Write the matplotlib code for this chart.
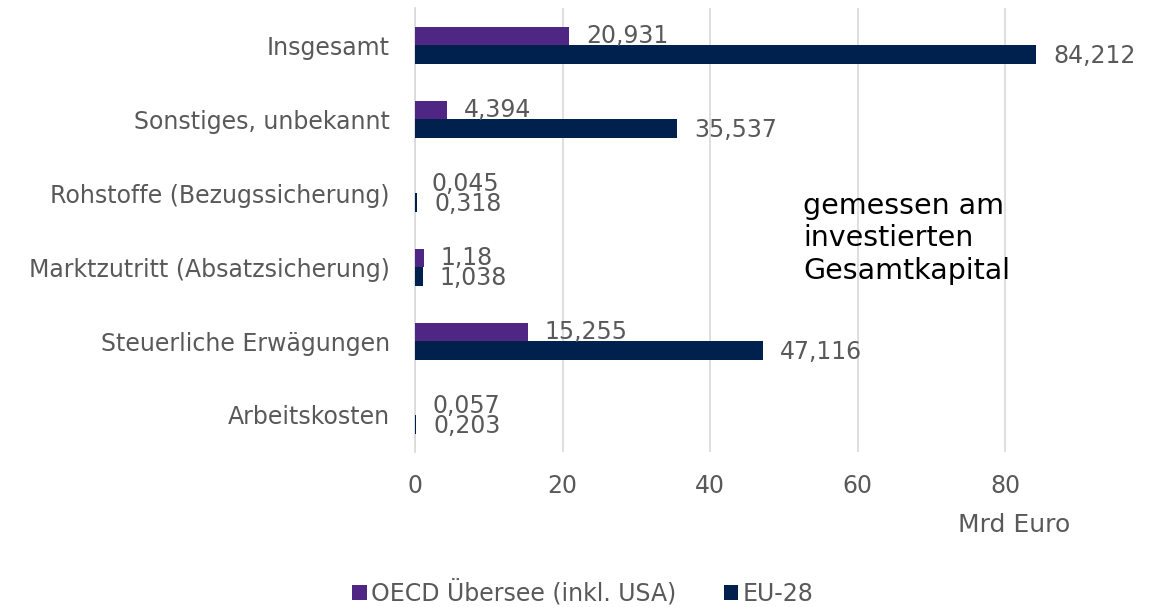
import matplotlib
matplotlib.use("Agg")
import matplotlib.pyplot as plt
import numpy as np

categories = ["Arbeitskosten", "Steuerliche Erwägungen", "Marktzutritt (Absatzsicherung)",
              "Rohstoffe (Bezugssicherung)", "Sonstiges, unbekannt", "Insgesamt"]
oecd = [0.057, 15.255, 1.18, 0.045, 4.394, 20.931]
eu = [0.203, 47.116, 1.038, 0.318, 35.537, 84.212]
oecd_labels = ["0,057", "15,255", "1,18", "0,045", "4,394", "20,931"]
eu_labels = ["0,203", "47,116", "1,038", "0,318", "35,537", "84,212"]
series_names = ["OECD Übersee (inkl. USA)", "EU-28"]
xticks = [0, 20, 40, 60, 80]

purple = "#4F2683"
navy = "#00204E"
gray = "#595959"
fs = 17

plt.rcParams['font.family'] = ['DejaVu Sans']
fig = plt.figure(figsize=(11.64, 6.07), dpi=100)
ax = fig.add_axes([415/1164, 1-452/607, (1153-415)/1164, 444/607])

y = np.arange(len(categories))
h = 0.25
b1 = ax.barh(y + h/2, oecd, height=h, color=purple, label=series_names[0], zorder=3)
b2 = ax.barh(y - h/2, eu, height=h, color=navy, label=series_names[1], zorder=3)

for yi, v, lab in zip(y + h/2, oecd, oecd_labels):
    ax.annotate(lab, (v, yi), xytext=(12, 0), textcoords="offset points",
                va="center", ha="left", fontsize=fs, color=gray, zorder=4)
for yi, v, lab in zip(y - h/2, eu, eu_labels):
    ax.annotate(lab, (v, yi), xytext=(12, -1), textcoords="offset points",
                va="center", ha="left", fontsize=fs, color=gray, zorder=4)

ax.set_xlim(0, 100)
ax.set_ylim(-0.5, len(categories) - 0.5)
ax.set_xticks(xticks)
ax.set_xticklabels([str(t) for t in xticks], fontsize=fs, color=gray)
ax.set_yticks(y)
ax.set_yticklabels(categories, fontsize=fs, color=gray)
ax.tick_params(axis="y", length=0, pad=18)
ax.tick_params(axis="x", length=0, pad=16)
ax.grid(axis="x", color="#D9D9D9", linewidth=1.2, zorder=0)
for s in ["top", "right", "bottom"]:
    ax.spines[s].set_visible(False)
ax.spines["left"].set_color("#D9D9D9")
ax.spines["left"].set_linewidth(1.2)

ax.text(52.6, 2.39, "gemessen am\ninvestierten\nGesamtkapital", fontsize=20.5,
        color="black", va="center", ha="left", linespacing=1.2)

fig.text(1014/1164, 1-525/607, "Mrd Euro", fontsize=18, color=gray, ha="center", va="center")

leg = fig.legend(handles=[b1, b2], labels=series_names, loc="center",
                 bbox_to_anchor=(583/1164, 1-593/607), ncol=2, frameon=False,
                 fontsize=fs, handlelength=0.6, handleheight=0.6, handletextpad=0.2,
                 columnspacing=2.0)
for t in leg.get_texts():
    t.set_color(gray)

fig.savefig("out.png", dpi=100)
